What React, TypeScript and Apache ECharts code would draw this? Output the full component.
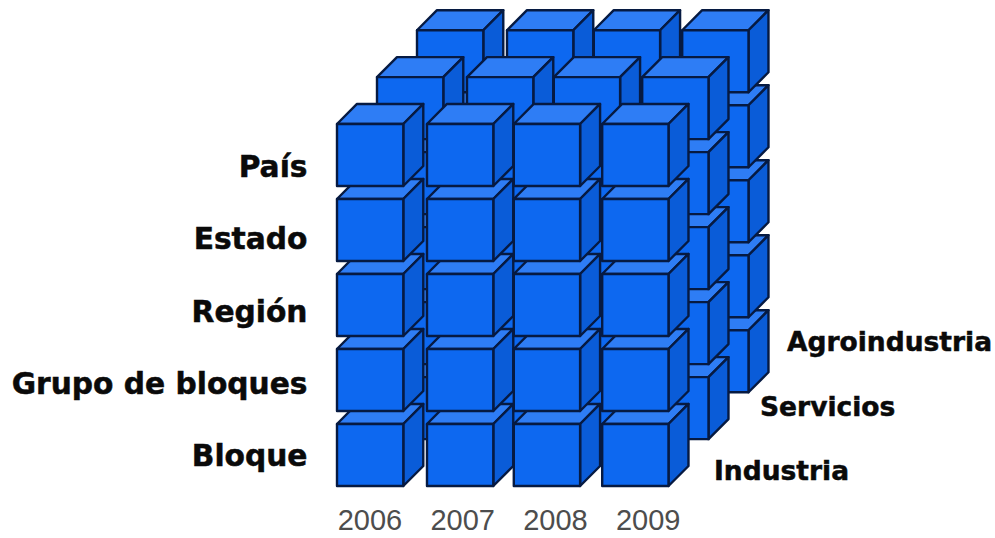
import React, { useEffect, useRef } from "react";
import * as echarts from "echarts";

const years = ["2006", "2007", "2008", "2009"];
const levels = ["Bloque", "Grupo de bloques", "Región", "Estado", "País"];
const sectors = ["Industria", "Servicios", "Agroindustria"];

// one cell per year × level × sector, painted back to front and bottom to top
const cubeCells: number[][] = [];
for (let s = sectors.length - 1; s >= 0; s--) {
  for (let l = 0; l < levels.length; l++) {
    for (let y = 0; y < years.length; y++) cubeCells.push([y, l, s]);
  }
}

const FACE_W = 0.75;
const FACE_H = 0.827;
const SECTOR_DX = 0.4525;
const SECTOR_DY = 0.625;
const DEPTH_DX = 0.226;
const DEPTH_DY = 0.267;
const COLUMN_NUDGE = [0, 0.018, 0, 0];

const FRONT = "#0d68f0";
const TOP = "#2e7df5";
const SIDE = "#0a5cd8";
const EDGE = "#061a42";

const renderCube = (params: any, api: any) => {
  const x0 = api.value(0) + COLUMN_NUDGE[api.value(0)] + api.value(2) * SECTOR_DX;
  const y0 = api.value(1) + api.value(2) * SECTOR_DY;
  const p = (x: number, y: number) => api.coord([x, y]);
  const a = p(x0, y0);
  const b = p(x0 + FACE_W, y0);
  const c = p(x0 + FACE_W, y0 + FACE_H);
  const d = p(x0, y0 + FACE_H);
  const e = p(x0 + DEPTH_DX, y0 + FACE_H + DEPTH_DY);
  const f = p(x0 + FACE_W + DEPTH_DX, y0 + FACE_H + DEPTH_DY);
  const g = p(x0 + FACE_W + DEPTH_DX, y0 + DEPTH_DY);
  const face = (points: number[][], fill: string) => ({
    type: "polygon",
    shape: { points },
    style: { fill, stroke: EDGE, lineWidth: 2.4, lineJoin: "round" },
  });
  return {
    type: "group",
    children: [face([d, e, f, c], TOP), face([b, g, f, c], SIDE), face([a, b, c, d], FRONT)],
  };
};

const sectorText = (text: string, x: number, y: number) => ({
  type: "text",
  x,
  y,
  style: {
    text,
    fill: "#0a0a0a",
    stroke: "#0a0a0a",
    lineWidth: 0.5,
    font: "bold 26.5px 'DejaVu Sans'",
    textAlign: "left",
    textVerticalAlign: "middle",
  },
});

export default function App() {
  const ref = useRef<HTMLDivElement>(null);
  useEffect(() => {
    const chart = echarts.init(ref.current!, undefined, { renderer: "svg" });
    chart.setOption({
      animation: false,
      backgroundColor: "#ffffff",
      grid: [
        { left: 323.5, width: 371, top: 130, height: 362 },
        { left: 337, width: 442, top: 36, height: 450 },
      ],
      xAxis: [
        {
          gridIndex: 0,
          type: "category",
          data: years,
          axisLine: { show: false },
          axisTick: { show: false },
          axisLabel: { color: "#4d4d4d", fontFamily: "Liberation Sans", fontSize: 29, margin: 13 },
        },
        { gridIndex: 1, type: "value", min: 0, max: 5, show: false },
      ],
      yAxis: [
        {
          gridIndex: 0,
          type: "category",
          data: levels,
          axisLine: { show: false },
          axisTick: { show: false },
          axisLabel: {
            color: "#0a0a0a",
            fontFamily: "DejaVu Sans",
            fontWeight: "bold",
            fontSize: 29.7,
            margin: 16,
            textBorderColor: "#0a0a0a",
            textBorderWidth: 0.5,
          },
        },
        { gridIndex: 1, type: "value", min: 0, max: 6, show: false },
      ],
      series: [
        {
          type: "custom",
          xAxisIndex: 1,
          yAxisIndex: 1,
          data: cubeCells,
          renderItem: renderCube,
          clip: false,
          silent: true,
        },
      ],
      graphic: [
        sectorText(sectors[2], 787, 341),
        sectorText(sectors[1], 760, 406),
        sectorText(sectors[0], 714, 470),
      ],
    });
    return () => chart.dispose();
  }, []);
  return <div ref={ref} style={{ position: "fixed", left: 0, top: 0, width: 995, height: 538 }} />;
}
